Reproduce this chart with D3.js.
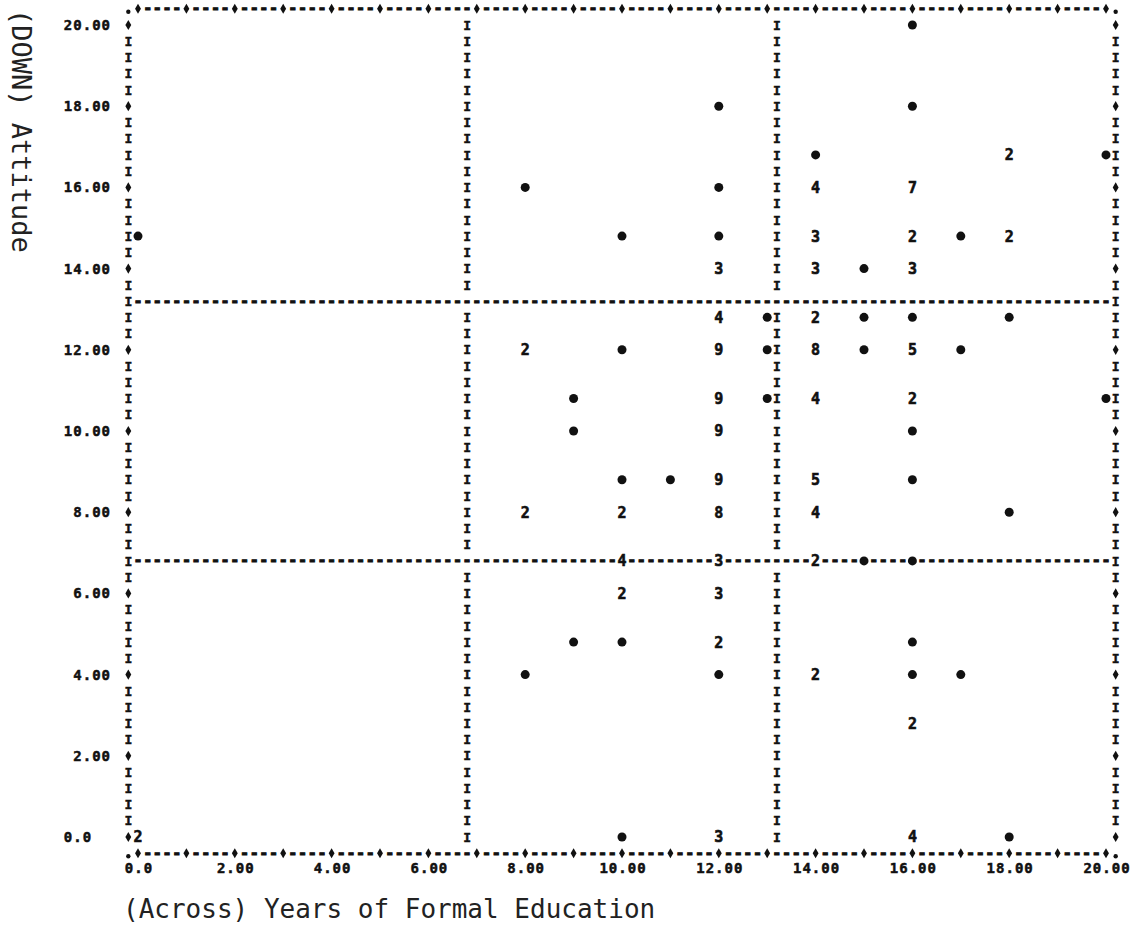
<!DOCTYPE html>
<html>
<head>
<meta charset="utf-8">
<script src="https://cdn.jsdelivr.net/npm/d3@7"></script>
<style>
  body { margin: 0; background: #fff; }
  svg { display: block; }
  .pr { font-family: "DejaVu Sans Mono", monospace; font-weight: bold; font-size: 15px; fill: #111; stroke: #111; stroke-width: 0.6px; }
  .ln { stroke-width: 0.9px; }
  .bar { font-size: 13px; stroke-width: 0.5px; }
  .ttl { font-family: "DejaVu Sans Mono", monospace; fill: #222; }
</style>
</head>
<body>
<div id="view"></div>
<script>
// printed cells of the scattergram: across = years of education, down = attitude,
// cases = how many cases fall in that cell (1 prints as a dot)
var educ = [16, 12, 16, 14, 18, 20, 8, 12, 14, 16,
	0, 10, 12, 14, 16, 17, 18, 12, 14, 15, 16,
	12, 13, 14, 15, 16, 18, 8, 10, 12, 13, 14, 15, 16, 17,
	9, 12, 13, 14, 16, 20, 9, 12, 16, 10, 11, 12, 14, 16,
	8, 10, 12, 14, 18, 10, 12, 14, 15, 16, 10, 12,
	9, 10, 12, 16, 8, 12, 14, 16, 17, 16, 0, 10, 12, 16, 18];
var attitude = [20, 18, 18, 16.8, 16.8, 16.8, 16, 16, 16, 16,
	14.8, 14.8, 14.8, 14.8, 14.8, 14.8, 14.8, 14, 14, 14, 14,
	12.8, 12.8, 12.8, 12.8, 12.8, 12.8, 12, 12, 12, 12, 12, 12, 12, 12,
	10.8, 10.8, 10.8, 10.8, 10.8, 10.8, 10, 10, 10, 8.8, 8.8, 8.8, 8.8, 8.8,
	8, 8, 8, 8, 8, 6.8, 6.8, 6.8, 6.8, 6.8, 6, 6,
	4.8, 4.8, 4.8, 4.8, 4, 4, 4, 4, 4, 2.8, 0, 0, 0, 0, 0];
var cases = [1, 1, 1, 1, 2, 1, 1, 1, 4, 7,
	1, 1, 1, 3, 2, 1, 2, 3, 3, 1, 3,
	4, 1, 2, 1, 1, 1, 2, 1, 9, 1, 8, 1, 5, 1,
	1, 9, 1, 4, 2, 1, 1, 9, 1, 1, 1, 9, 5, 1,
	2, 2, 8, 4, 1, 4, 3, 2, 1, 1, 2, 3,
	1, 1, 2, 1, 1, 1, 2, 1, 1, 2, 2, 1, 3, 4, 1];

var xTicks = [0, 2, 4, 6, 8, 10, 12, 14, 16, 18, 20];
var xTickLabels = ["0.0", "2.00", "4.00", "6.00", "8.00", "10.00", "12.00", "14.00", "16.00", "18.00", "20.00"];
var yTicks = [20, 18, 16, 14, 12, 10, 8, 6, 4, 2, 0];
var yTickLabels = ["20.00", "18.00", "16.00", "14.00", "12.00", "10.00", "8.00", "6.00", "4.00", "2.00", "0.0\u00a0\u00a0"];
// dividing lines drawn across the plot
var splitX = [6.8, 13.2];
var splitY = [13.2, 6.8];

var W = 1130, H = 930;
var colStep = 0.2, rowStep = 0.4; // one printer column / line

var x = d3.scaleLinear().domain([0, 20]).range([138, 1106]);
var y = d3.scaleLinear().domain([0, 20]).range([837, 25]);

var svg = d3.select("#view").append("svg")
	.attr("width", W)
	.attr("height", H);
svg.append("rect").attr("width", W).attr("height", H).attr("fill", "#fff");

var cols = d3.range(-1, 102);   // -1 and 101 are the frame
var rows = d3.range(-1, 52);    // -1 and 51 are the frame
function cx(c){ return x(c * colStep); }
function ry(r){ return y(20 - r * rowStep); }

var taken = {};
educ.forEach(function(e, i){
	taken[Math.round(e / colStep) + "," + Math.round((20 - attitude[i]) / rowStep)] = true;
});

// build the printed frame and dividing lines, cell by cell
var cells = [];
var splitCols = splitX.map(function(v){ return Math.round(v / colStep); });
var splitRows = splitY.map(function(v){ return Math.round((20 - v) / rowStep); });

cols.forEach(function(c){
	[-1, 51].forEach(function(r){
		var ch = (c == -1 || c == 101) ? "." : (c % 5 == 0 ? "+" : "-");
		cells.push({c: c, r: r, ch: ch});
	});
});
rows.forEach(function(r){
	if (r == -1 || r == 51) return;
	[-1, 101].forEach(function(c){
		cells.push({c: c, r: r, ch: r % 5 == 0 ? "+" : "I"});
	});
});
splitRows.forEach(function(r){
	d3.range(0, 101).forEach(function(c){
		if (!taken[c + "," + r]) cells.push({c: c, r: r, ch: "-"});
	});
});
splitCols.forEach(function(c){
	d3.range(0, 51).forEach(function(r){
		if (splitRows.indexOf(r) >= 0) return;
		if (!taken[c + "," + r]) cells.push({c: c, r: r, ch: "I"});
	});
});

var frame = svg.append("g");
frame.selectAll("text.ln")
	.data(cells.filter(function(d){ return d.ch == "-" || d.ch == "I"; }))
   .enter().append("text")
	.attr("class", function(d){ return d.ch == "I" ? "pr ln bar" : "pr ln"; })
	.attr("x", function(d){ return cx(d.c); })
	.attr("y", function(d){ return ry(d.r); })
	.attr("dy", function(d){ return d.ch == "-" ? "0.3em" : "0.36em"; })
	.attr("text-anchor", "middle")
	.text(function(d){ return d.ch; });

frame.selectAll("path.tk")
	.data(cells.filter(function(d){ return d.ch == "+"; }))
   .enter().append("path")
	.attr("class", "tk")
	.attr("d", d3.symbol().type(d3.symbolDiamond).size(30))
	.attr("transform", function(d){ return "translate(" + cx(d.c) + "," + ry(d.r) + ")"; })
	.attr("fill", "#111");

frame.selectAll("circle.cn")
	.data(cells.filter(function(d){ return d.ch == "."; }))
   .enter().append("circle")
	.attr("class", "cn")
	.attr("cx", function(d){ return cx(d.c); })
	.attr("cy", function(d){ return ry(d.r) + 3; })
	.attr("r", 2.2)
	.attr("fill", "#111");

// data cells
var pts = educ.map(function(e, i){ return {x: e, y: attitude[i], n: cases[i]}; });
var plot = svg.append("g");
plot.selectAll("circle")
	.data(pts.filter(function(d){ return d.n == 1; }))
   .enter().append("circle")
	.attr("cx", function(d){ return x(d.x); })
	.attr("cy", function(d){ return y(d.y); })
	.attr("r", 4.5)
	.attr("fill", "#111");
plot.selectAll("text")
	.data(pts.filter(function(d){ return d.n > 1; }))
   .enter().append("text")
	.attr("class", "pr")
	.attr("x", function(d){ return x(d.x); })
	.attr("y", function(d){ return y(d.y); })
	.attr("dy", "0.36em")
	.attr("text-anchor", "middle")
	.text(function(d){ return d.n; });

// tick labels
svg.append("g").selectAll("text")
	.data(yTicks)
   .enter().append("text")
	.attr("class", "pr")
	.style("font-size", "14px")
	.style("stroke-width", "0.5px")
	.style("letter-spacing", "1px")
	.style("white-space", "pre")
	.attr("x", 111)
	.attr("y", function(d){ return y(d); })
	.attr("dy", "0.36em")
	.attr("text-anchor", "end")
	.text(function(d, i){ return yTickLabels[i]; });

svg.append("g").selectAll("text")
	.data(xTicks)
   .enter().append("text")
	.attr("class", "pr")
	.style("font-size", "14px")
	.style("stroke-width", "0.5px")
	.style("letter-spacing", "1px")
	.attr("x", function(d){ return x(d) + 1; })
	.attr("y", 868)
	.attr("dy", "0.36em")
	.attr("text-anchor", "middle")
	.text(function(d, i){ return xTickLabels[i]; });

// axis titles
svg.append("text")
	.attr("class", "ttl")
	.style("font-size", "26px")
	.attr("x", 123)
	.attr("y", 918)
	.text("(Across) Years of Formal Education");

svg.append("text")
	.attr("class", "ttl")
	.style("font-size", "27px")
	.attr("transform", "translate(12,9) rotate(90)")
	.text("(DOWN) Attitude");
</script>
</body>
</html>
